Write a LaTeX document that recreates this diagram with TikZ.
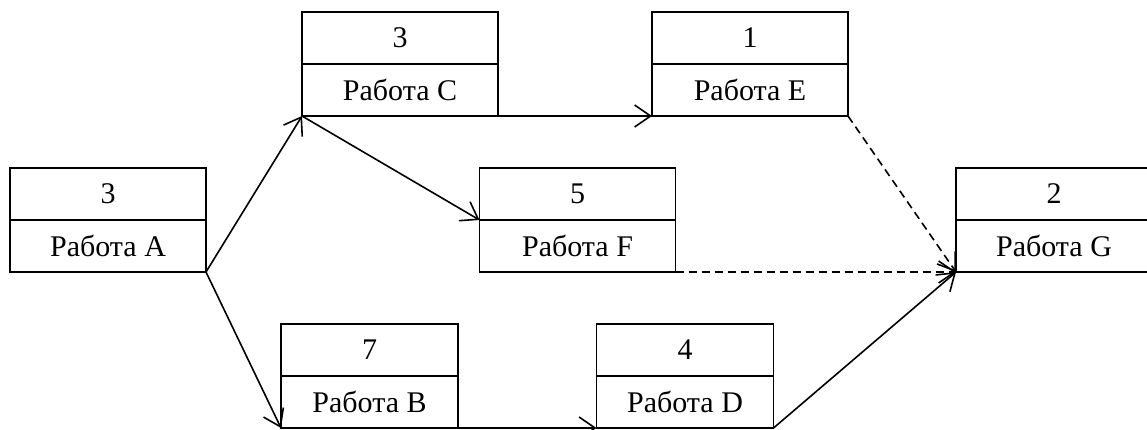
\documentclass[tikz,border=0pt]{standalone}
\usepackage{fontspec}
\setmainfont{Liberation Serif}
\usetikzlibrary{arrows.meta}
\tikzset{
  part/.style={draw, line width=1.4pt, minimum height=52pt, inner sep=0pt, outer sep=0pt,
    font=\fontsize{30}{35}\selectfont},
  wide/.style={part, minimum width=196pt},
  narrow/.style={part, minimum width=177pt},
  link/.style={line width=1.6pt, -{Straight Barb[length=16pt,width=22pt,line width=1.6pt]}},
  dlink/.style={link, dash pattern=on 8pt off 5pt}
}
\begin{document}
\begin{tikzpicture}[x=1pt,y=-1pt]
\useasboundingbox (0,0) rectangle (1147,429);
\clip (0,0) rectangle (1147,429);
% A
\node[wide] (a1) at (108,194) {3};
\node[wide, anchor=north] (a) at (a1.south) {Работа A};
% C
\node[wide] (c1) at (400,38) {3};
\node[wide, anchor=north] (c) at (c1.south) {Работа C};
% E
\node[wide] (e1) at (750,38) {1};
\node[wide, anchor=north] (e) at (e1.south) {Работа E};
% F
\node[wide] (f1) at (577.5,194) {5};
\node[wide, anchor=north] (f) at (f1.south) {Работа F};
% G
\node[wide] (g1) at (1054,194) {2};
\node[wide, anchor=north] (g) at (g1.south) {Работа G};
% B
\node[narrow] (b1) at (369.5,350) {7};
\node[narrow, anchor=north] (b) at (b1.south) {Работа B};
% D
\node[narrow] (d1) at (685,350) {4};
\node[narrow, anchor=north] (d) at (d1.south) {Работа D};
% connectors
\draw[link] (a.south east) -- (c.south west);
\draw[link] (a.south east) -- (b.south west);
\draw[link] (c.south west) -- (f1.south west);
\draw[link] (c.south east) -- (e.south west);
\draw[link] (b.south east) -- (d.south west);
\draw[link] (d.south east) -- (g.south west);
\draw[dlink] (e.south east) -- (g.south west);
\draw[dlink] (f.south east) -- (g.south west);
\end{tikzpicture}
\end{document}
